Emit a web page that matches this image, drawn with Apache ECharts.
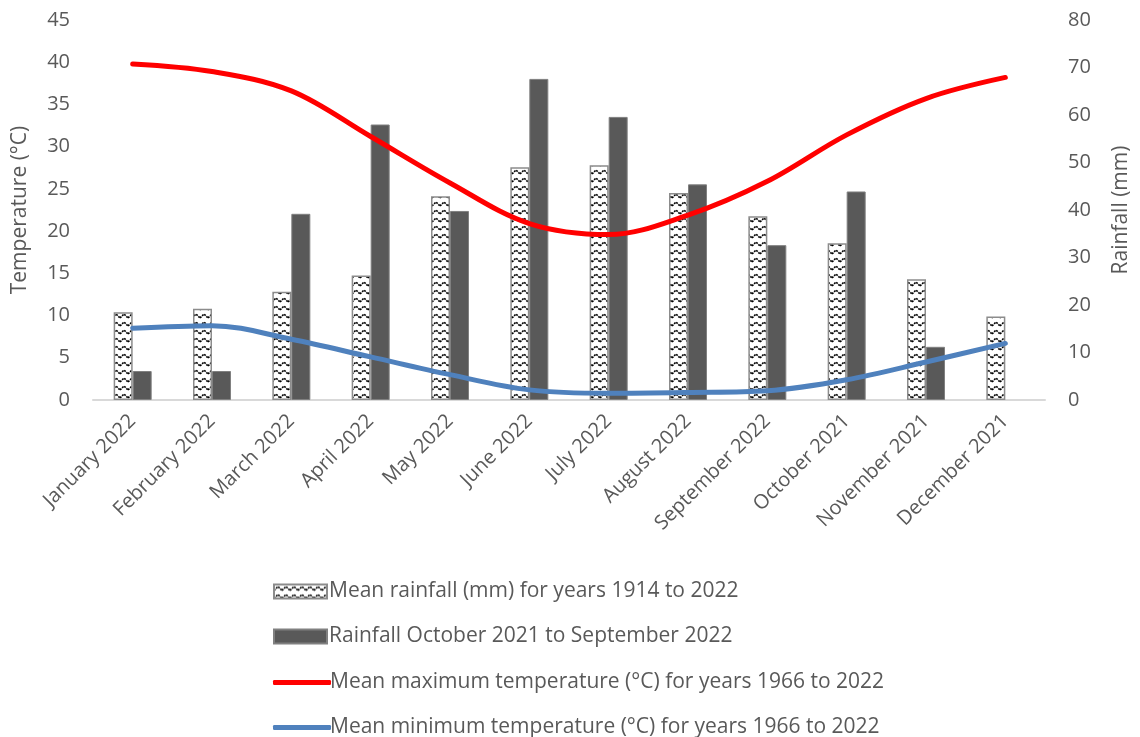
<!DOCTYPE html>
<html>
<head>
<meta charset="utf-8">
<script src="https://cdn.jsdelivr.net/npm/echarts@6/dist/echarts.min.js"></script>
<style>
  html, body { margin: 0; padding: 0; background: #fff; }
  #chart { width: 1140px; height: 737px; }
</style>
</head>
<body>
<div id="chart"></div>
<script>
// month labels, in the order they appear on the axis
const months = ['January 2022', 'February 2022', 'March 2022', 'April 2022', 'May 2022', 'June 2022',
  'July 2022', 'August 2022', 'September 2022', 'October 2021', 'November 2021', 'December 2021']

// rainfall (mm) - right axis
const meanRainfall = [18.5, 19.2, 22.8, 26.2, 42.9, 49.0, 49.4, 43.6, 38.7, 33.0, 25.4, 17.6]
const rainfallSeason = [6.1, 6.1, 39.2, 58.0, 39.8, 67.6, 59.6, 45.4, 32.6, 43.9, 11.2, null]

// temperature (°C) - left axis
const meanMaxTemp = [39.8, 38.9, 36.6, 31.2, 25.7, 20.9, 19.6, 21.9, 25.9, 31.4, 35.7, 38.2]
const meanMinTemp = [8.5, 8.8, 7.2, 5.1, 3.0, 1.2, 0.8, 0.9, 1.1, 2.4, 4.5, 6.7]

const names = [
  'Mean rainfall (mm) for years 1914 to 2022',
  'Rainfall October 2021 to September 2022',
  'Mean maximum temperature (°C) for years 1966 to 2022',
  'Mean minimum temperature (°C) for years 1966 to 2022'
]

const textColor = '#595959'
const font = 'Open Sans'

// zigzag fill like the excel pattern
function zigzag() {
  const c = document.createElement('canvas')
  c.width = 8
  c.height = 8
  const ctx = c.getContext('2d')
  ctx.fillStyle = '#fff'
  ctx.fillRect(0, 0, 8, 8)
  ctx.strokeStyle = '#000'
  ctx.lineWidth = 1.6
  ctx.setLineDash([2, 1])
  ctx.beginPath()
  ctx.moveTo(0, 6)
  ctx.lineTo(4, 2)
  ctx.lineTo(8, 6)
  ctx.stroke()
  return c
}

// one legend per row so they stack like the excel one
function legendRow(i, top, isLine) {
  return {
    left: 268,
    top: top,
    orient: 'vertical',
    itemWidth: isLine ? 58 : 53,
    itemHeight: isLine ? 5 : 14,
    icon: isLine ? 'roundRect' : 'rect',
    textStyle: { fontSize: 21, color: textColor, fontFamily: font, padding: [0, 0, 0, isLine ? -6 : -3] },
    data: [names[i]]
  }
}

const chart = echarts.init(document.getElementById('chart'))

chart.setOption({
  animation: false,
  textStyle: { fontFamily: font, color: textColor },
  grid: { left: 93, right: 90, top: 20, bottom: 337 },
  legend: [
    legendRow(0, 576, false),
    legendRow(1, 621, false),
    legendRow(2, 667, true),
    legendRow(3, 712, true)
  ],
  xAxis: {
    type: 'category',
    data: months,
    axisLine: { lineStyle: { color: '#d9d9d9', width: 2 } },
    axisTick: { show: false },
    axisLabel: { rotate: 45, fontSize: 20, color: textColor, margin: 18, interval: 0 }
  },
  yAxis: [{
    type: 'value',
    min: 0,
    max: 45,
    interval: 5,
    name: 'Temperature (°C)',
    nameLocation: 'middle',
    nameGap: 62,
    nameTextStyle: { fontSize: 21, color: textColor },
    axisLine: { show: false },
    axisTick: { show: false },
    splitLine: { show: false },
    axisLabel: { fontSize: 20, color: textColor, margin: 23 }
  }, {
    type: 'value',
    min: 0,
    max: 80,
    interval: 10,
    name: 'Rainfall (mm)',
    nameLocation: 'middle',
    nameGap: 66,
    nameTextStyle: { fontSize: 21, color: textColor },
    axisLine: { show: false },
    axisTick: { show: false },
    splitLine: { show: false },
    axisLabel: { fontSize: 20, color: textColor, margin: 23 }
  }],
  series: [{
    name: names[0],
    type: 'bar',
    yAxisIndex: 1,
    barWidth: 19,
    barGap: '0%',
    itemStyle: {
      color: { image: zigzag(), repeat: 'repeat' },
      borderColor: '#8c8c8c',
      borderWidth: 1.5
    },
    data: meanRainfall
  }, {
    name: names[1],
    type: 'bar',
    yAxisIndex: 1,
    barWidth: 19,
    barGap: '0%',
    itemStyle: { color: '#595959', borderColor: '#808080', borderWidth: 1 },
    data: rainfallSeason
  }, {
    name: names[2],
    type: 'line',
    yAxisIndex: 0,
    smooth: 0.35,
    symbol: 'none',
    lineStyle: { color: '#ff0000', width: 5, cap: 'round' },
    itemStyle: { color: '#ff0000' },
    data: meanMaxTemp
  }, {
    name: names[3],
    type: 'line',
    yAxisIndex: 0,
    smooth: 0.35,
    symbol: 'none',
    lineStyle: { color: '#4f81bd', width: 5, cap: 'round' },
    itemStyle: { color: '#4f81bd' },
    data: meanMinTemp
  }]
})
</script>
</body>
</html>
